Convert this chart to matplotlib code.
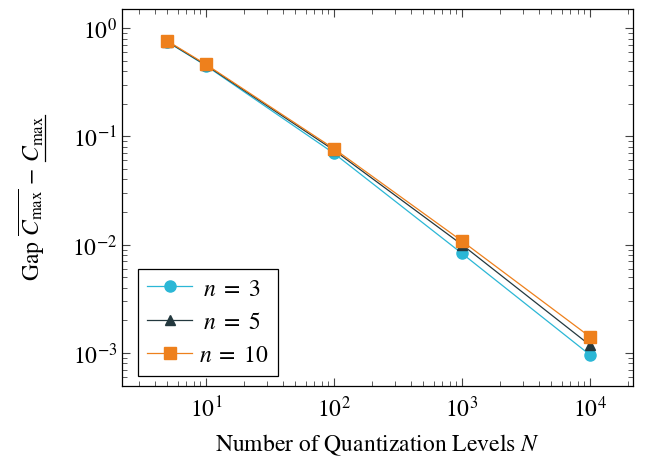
import numpy as np
import matplotlib
matplotlib.use('Agg')
import matplotlib.pyplot as plt
from matplotlib.lines import Line2D

plt.rcParams['font.family'] = ['STIXGeneral', 'DejaVu Serif']
plt.rcParams['mathtext.fontset'] = 'stix'

# data
levels = [5, 10, 100, 1000, 10000]
gap_n3 = [0.745, 0.450, 0.0697, 0.0083, 0.00096]
gap_n5 = [0.750, 0.455, 0.0745, 0.0100, 0.00118]
gap_n10 = [0.760, 0.462, 0.0770, 0.0108, 0.00141]

fig = plt.figure(figsize=(6.46, 4.64), dpi=100)
ax = fig.add_axes([122/646, 1 - 387/464, (633-122)/646, (387-10)/464])

# leading space roughly centres the shorter labels like the reference legend
ax.plot(levels, gap_n3, color='#2bb7d6', lw=0.9, marker='o', ms=8, label=r'$\;n\;=\;3$')
ax.plot(levels, gap_n5, color='#23383e', lw=0.9, marker='^', ms=7, label=r'$\;n\;=\;5$')
ax.plot(levels, gap_n10, color='#ee801c', lw=0.9, marker='s', ms=8, label=r'$n\;=\;10$')

ax.set_xscale('log')
ax.set_yscale('log')
ax.set_xlim(2.21, 2.17e4)
ax.set_ylim(4.95e-4, 1.5)

ax.tick_params(which='both', direction='in', top=True, right=True, labelsize=17, color='#444444')
ax.tick_params(which='major', length=6)
ax.tick_params(which='minor', length=3.5)
ax.tick_params(axis='x', pad=7)
for s in ax.spines.values():
    s.set_linewidth(0.9)

ax.set_xlabel('Number of Quantization Levels $N$', fontsize=17, labelpad=7)
ylab = ax.set_ylabel(r'Gap $\overline{C_{\max}}\,-\,C_{\max}$', fontsize=17, labelpad=18)

leg = ax.legend(loc='lower left', fontsize=17, fancybox=False, edgecolor='black',
                framealpha=1, handlelength=1.9, borderpad=0.4, labelspacing=0.5,
                handletextpad=0.3, borderaxespad=0, bbox_to_anchor=(0.031, 0.027))
leg.get_frame().set_linewidth(0.9)

# mathtext has no \underline, so draw it by hand under the last C_max
fig.canvas.draw()
r = fig.canvas.get_renderer()
bb = ylab.get_window_extent(r)
tmp = fig.text(0, 0, r'$C_{\max}$', fontsize=17)
w = tmp.get_window_extent(r).width
tmp.remove()
x = (bb.x1 - 1.5) / fig.bbox.width
y0 = (bb.y1 - w) / fig.bbox.height
y1 = bb.y1 / fig.bbox.height
fig.add_artist(Line2D([x, x], [y0, y1], transform=fig.transFigure, color='black', lw=0.9))

fig.savefig('out.png', dpi=100)
